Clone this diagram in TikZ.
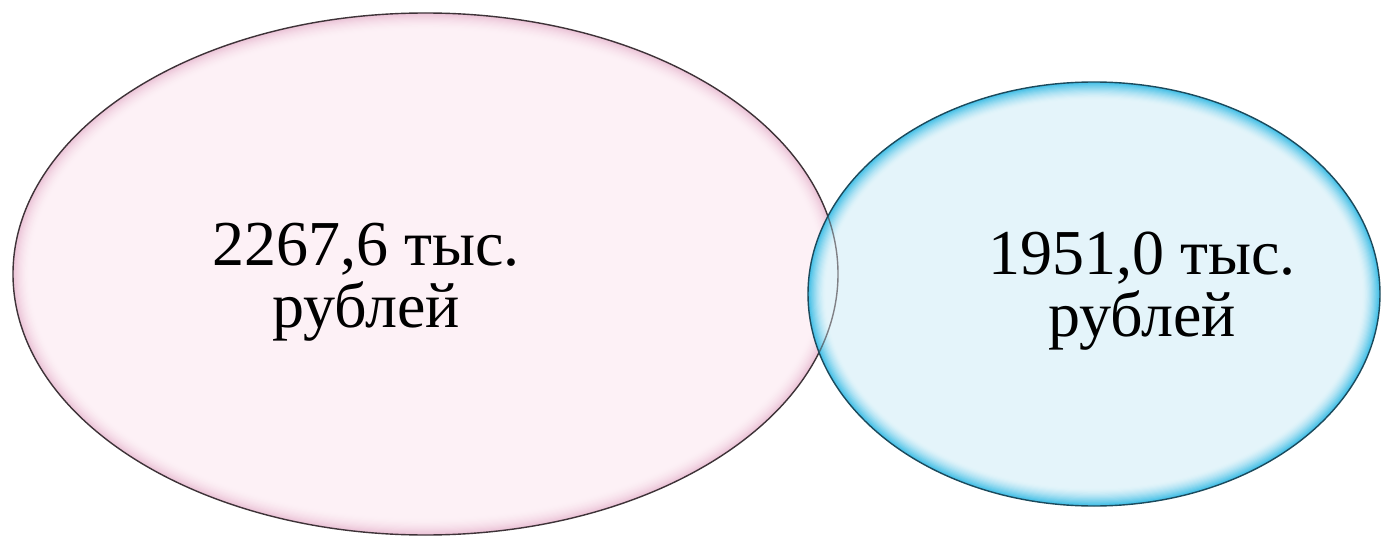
\documentclass[tikz,border=0pt]{standalone}
\usepackage{fontspec}
\setmainfont{Liberation Serif}
\usetikzlibrary{shapes.geometric}
\definecolor{pinkin}{HTML}{FDF1F6}
\definecolor{pinkrim}{HTML}{EBC2D6}
\definecolor{pinkline}{HTML}{3E3338}
\definecolor{bluein}{HTML}{E4F4FA}
\definecolor{bluerim}{HTML}{3FBEE6}
\definecolor{blueline}{HTML}{1C4A5C}
\tikzset{
  lbl/.style={font=\fontsize{64pt}{62pt}\selectfont, align=center, inner sep=0pt, text=black},
  bubble/.style={ellipse, inner sep=0pt, line width=1.4pt}
}
\begin{document}
\begin{tikzpicture}[x=1pt,y=1pt]
\useasboundingbox (0,0) rectangle (1381,539);
\fill[white] (0,0) rectangle (1381,539);
% left bubble
\coordinate (lc) at (425.5,265);
\foreach \i in {0,...,16}{
  \pgfmathtruncatemacro\p{100*(1-\i/16)^2}
  \fill[pinkrim!\p!pinkin] (lc) ellipse [x radius={(412.5-\i*1.1)*1pt}, y radius={(261-\i*1.1)*1pt}];
}
\node[bubble, draw=pinkline, minimum width=825pt, minimum height=522pt] (L) at (lc) {};
% right bubble
\coordinate (rc) at (1094,245);
\foreach \i in {0,...,16}{
  \pgfmathtruncatemacro\p{100*(1-\i/16)^1.6}
  \fill[bluerim!\p!bluein] (rc) ellipse [x radius={(286-\i*1.1)*1pt}, y radius={(212-\i*1.1)*1pt}];
}
\begin{scope}
  \clip (rc) ellipse [x radius=286pt, y radius=212pt];
  \draw[pinkline, line width=1.4pt, opacity=0.6] (lc) ellipse [x radius=412.5pt, y radius=261pt];
\end{scope}
\node[bubble, draw=blueline, minimum width=572pt, minimum height=424pt] (R) at (rc) {};
% labels
\node[lbl] (LT) at (366,257) {2267,6 тыс.\\рублей};
\node[lbl] (RT) at (1142,247.5) {1951,0 тыс.\\рублей};
\end{tikzpicture}
\end{document}
